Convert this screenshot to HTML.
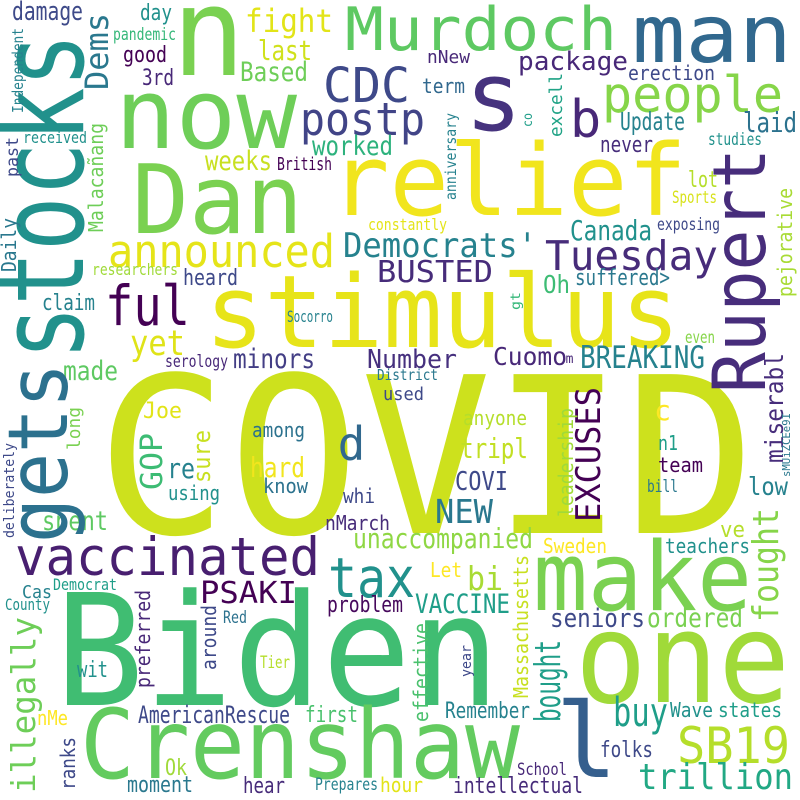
<!DOCTYPE html>
<html>
<head>
<meta charset="utf-8">
<style>
html,body{margin:0;padding:0;background:#fff;width:800px;height:800px;overflow:hidden}
svg{display:block}
text{font-family:"DejaVu Sans Mono","Liberation Mono",monospace}
</style>
</head>
<body>
<svg id="cloud" width="800" height="800" viewBox="0 0 800 800" xmlns="http://www.w3.org/2000/svg">
<rect x="0" y="0" width="800" height="800" fill="#ffffff"/>
</svg>
<script>
// Horizontal words
const hText = ["COVID","n","now","Dan","damage","day","pandemic","good","3rd","fight","last","Based","Murdoch","CDC","postp","worked","weeks","British","received","announced","Democrats'","BUSTED","ful","stimulus","researchers","heard","claim","yet","Socorro","minors","serology","made","Number","District","constantly","used","man","s","nNew","package","erection","term","people","b","Update","laid","studies","never","relief","lot","Sports","exposing","Canada","Tuesday","suffered>","Oh","even","Cuomo","m","BREAKING","Joe","d","among","re","hard","know","using","whi","spent","nMarch","vaccinated","tax","unaccompanied","PSAKI","Democrat","Cas","County","problem","Red","Biden","Tier","wit","Crenshaw","nMe","AmericanRescue","first","Ok","moment","hear","Prepares","hour","anyone","c","n1","tripl","team","COVI","bill","low","NEW","ve","Sweden","teachers","make","bi","Let","VACCINE","seniors","ordered","one","l","buy","SB19","Wave","states","Remember","folks","trillion","School","intellectual"];
const hX0 = [96,180,115,132,12,140,113,123,142,245,258,240,345,323,300,312,205,277,23,108,343,377,105,205,92,183,42,130,287,233,165,63,367,377,368,383,632,467,427,518,628,422,602,573,620,743,708,600,330,688,672,657,570,545,575,543,685,493,567,580,143,343,252,167,250,263,168,343,42,325,15,328,353,200,53,22,5,327,223,55,260,77,80,37,138,305,165,127,243,315,380,463,655,658,460,658,455,647,748,435,720,543,665,533,467,430,415,550,647,575,573,613,677,670,718,445,600,638,517,453];
const hX1 = [756,237,297,303,83,172,176,167,174,333,312,308,617,410,425,393,272,332,87,335,537,493,190,680,178,238,95,185,333,315,228,118,457,438,447,424,792,520,470,628,715,465,783,598,685,797,762,653,687,718,717,720,652,718,670,570,715,567,572,705,182,360,305,195,305,308,220,375,108,390,320,415,533,297,117,52,50,403,247,500,290,108,520,68,290,358,187,193,285,378,423,527,670,678,528,703,508,678,788,493,745,607,750,752,503,462,510,645,743,790,600,668,790,713,782,530,653,793,567,583];
const hY = [533,75,148,233,20,20,40,62,85,32,60,81,50,102,135,155,170,170,143,267,257,282,325,347,275,285,310,355,322,368,367,380,368,380,230,400,62,130,63,70,80,93,112,137,130,132,145,152,215,187,203,230,240,270,285,293,343,365,363,368,418,460,437,478,477,493,500,503,530,530,575,597,548,603,590,598,610,612,623,705,668,677,778,725,723,722,775,792,793,790,792,425,420,450,458,472,490,492,495,523,537,553,553,610,590,577,613,627,627,702,777,726,763,717,717,718,757,789,775,793];
const hSize = [218,122,97,95,26,22,17,22,22,32,28,27,60,48,45,27,27,18,16,45,34,30,55,101,16,22,22,35,16,27,17,27,26,15,16,18,80,95,18,26,20,20,50,52,25,28,17,22,99,22,17,17,28,41,22,25,17,25,13,31,22,46,20,28,28,20,20,20,27,20,53,55,28,30,16,18,16,22,17,155,17,22,96,20,24,22,22,22,22,17,20,20,28,20,28,20,26,17,25,33,22,20,20,95,33,20,27,26,27,126,103,40,50,20,20,22,22,36,17,22];
const hColor = ["#cde11d","#7ad151","#6ece58","#7ad151","#3e4a89","#21918c","#35b779","#440154","#482878","#e2e418","#d0e11c","#6ece58","#5ec962","#3e4989","#414487","#2db27d","#c8e020","#440154","#21918c","#e5e419","#26828e","#472c7a","#440154","#e7e419","#a0da39","#3e4989","#26828e","#dfe318","#26828e","#433e85","#482878","#5ec962","#46307e","#2a788e","#e4e419","#3e4989","#31688e","#46337e","#482878","#482878","#3e4989","#31688e","#86d549","#482878","#26828e","#2c728e","#21918c","#472d7b","#f1e51d","#b5de2b","#d8e219","#3e4989","#21918c","#472c7a","#2a788e","#3dbc74","#86d549","#482878","#482878","#26828e","#e2e418","#31688e","#2c728e","#26828e","#f1e51d","#2c728e","#21918c","#3e4989","#5ec962","#472c7a","#481f70","#21918c","#8fd744","#440154","#1f9e89","#26828e","#21918c","#46085c","#2c728e","#40bd72","#b5de2b","#21918c","#63cb5f","#fde725","#3e4989","#4ac16d","#a0da39","#2a788e","#472c7a","#26828e","#e2e418","#b5de2b","#fde725","#1f9e89","#c2df23","#440154","#3e4989","#2a788e","#26828e","#2a788e","#b5de2b","#fde725","#21918c","#7ad151","#a8db34","#fde725","#1f9e89","#3e4989","#7ad151","#a0da39","#355f8d","#1f9e89","#b5de2b","#21918c","#1f9e89","#26828e","#3e4989","#22a884","#482878","#472c7a"];

// Vertical words (rotated -90, reading bottom to top)
const vText = ["stocks","gets","Dems","Malacañang","Independent","past","Daily","anniversary","co","excell","Rupert","pejorative","gt","miserabl","sMUiZCEe9I","EXCUSES","long","GOP","sure","deliberately","illegally","preferred","around","ranks","leadership","fought","Massachusetts","effective","bought","year"];
const vBase = [83,67,108,103,23,18,16,456,532,562,765,792,520,783,790,600,80,162,210,14,35,150,216,75,573,778,528,428,560,471];
const vStart = [360,543,90,232,113,177,272,200,127,137,393,297,310,463,477,522,450,490,483,538,793,688,670,790,517,622,698,722,722,677];
const vEnd = [33,363,13,123,28,137,218,113,113,73,148,188,292,353,413,387,407,433,430,443,617,590,605,737,408,508,555,623,640,645];
const vSize = [119,83,32,20,15,17,20,15,13,18,73,20,13,25,11,34,18,30,24,14,33,20,20,20,20,36,20,20,36,14];
const vColor = ["#21918c","#2c718e","#2a788e","#6ece58","#26828e","#3e4989","#2a788e","#26828e","#1f9e89","#20a386","#472d7b","#a8db34","#35b779","#472d7b","#2a788e","#440154","#7ad151","#3dbc74","#c8e020","#3e4989","#6ece58","#482878","#3e4989","#3e4989","#a0da39","#86d549","#c8e020","#4ac16d","#1f9e89","#3e4989"];

const NS = "http://www.w3.org/2000/svg";
const svg = document.getElementById("cloud");
function slug(s){return s.toLowerCase().replace(/[^a-z0-9]+/g,"-").replace(/^-|-$/g,"")||"word";}

for (let i = 0; i < hText.length; i++) {
  const t = document.createElementNS(NS, "text");
  if (hText[i].length === 1) {
    const cx = (hX0[i] + hX1[i]) / 2;
    t.setAttribute("x", cx);
    t.setAttribute("text-anchor", "middle");
  } else {
    t.setAttribute("x", hX0[i]);
    t.setAttribute("textLength", Math.max(4, hX1[i] - hX0[i]));
    t.setAttribute("lengthAdjust", "spacingAndGlyphs");
  }
  t.setAttribute("y", hY[i]);
  t.setAttribute("font-size", hSize[i]);
  t.setAttribute("fill", hColor[i]);
  
  
  t.textContent = hText[i];
  svg.appendChild(t);
}

for (let i = 0; i < vText.length; i++) {
  const t = document.createElementNS(NS, "text");
  t.setAttribute("x", 0);
  t.setAttribute("y", 0);
  t.setAttribute("transform", "translate(" + vBase[i] + "," + vStart[i] + ") rotate(-90)");
  t.setAttribute("font-size", vSize[i]);
  t.setAttribute("fill", vColor[i]);
  t.setAttribute("textLength", Math.max(4, vStart[i] - vEnd[i]));
  t.setAttribute("lengthAdjust", "spacingAndGlyphs");
  
  
  t.textContent = vText[i];
  svg.appendChild(t);
}
</script>
</body>
</html>
